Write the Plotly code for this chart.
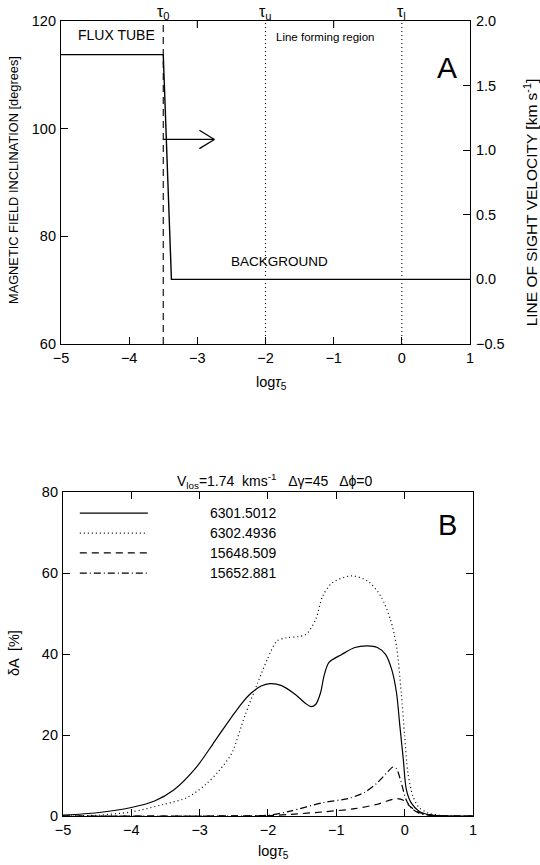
import plotly.graph_objects as go

# ---------------- Panel A data ----------------
logtau_model = [-5.0, -3.5, -3.38, 1.0]
vlos_model = [1.74, 1.74, 0.0, 0.0]          # km/s (right axis)
tau_marks = [-3.5, -2.0, 0.0]                # tau0, tau_u, tau_l
tau_names = ["τ<sub>0</sub>", "τ<sub>u</sub>", "τ<sub>l</sub>"]
top_ticks = [-3, -1]
incl_ticks = [60, 80, 100, 120]
vel_ticks = [-0.5, 0.0, 0.5, 1.0, 1.5, 2.0]
x_ticks = [-5, -4, -3, -2, -1, 0, 1]

# ---------------- Panel B data ----------------
line_names = ["6301.5012", "6302.4936", "15648.509", "15652.881"]

x_6301 = [-5.0, -4.5, -4.0, -3.66, -3.38, -3.05, -2.81, -2.68, -2.53, -2.38, -2.25, -2.1,
          -1.97, -1.8, -1.6, -1.45, -1.37, -1.30, -1.23, -1.18, -1.11, -0.92, -0.73,
          -0.54, -0.40, -0.28, -0.19, -0.12, -0.07, -0.02, 0.024, 0.094, 0.21, 0.4,
          0.7, 1.0]
y_6301 = [0.2, 0.8, 2.1, 3.7, 6.4, 12.0, 17.7, 20.9, 24.5, 27.9, 30.3, 32.1,
          32.7, 32.2, 30.0, 27.8, 27.0, 27.6, 30.5, 34.6, 37.9, 39.9, 41.6,
          42.0, 41.6, 39.9, 36.2, 30.5, 22.2, 14.0, 6.6, 3.3, 1.2, 0.2,
          0.0, 0.0]

x_6302 = [-5.0, -4.5, -4.0, -3.52, -3.19, -2.91, -2.72, -2.53, -2.34, -2.15, -2.01, -1.87,
          -1.73, -1.56, -1.44, -1.30, -1.20, -1.06, -0.78, -0.54, -0.35, -0.21, -0.12,
          -0.05, 0.0, 0.047, 0.12, 0.21, 0.35, 0.5, 0.7, 1.0]
y_6302 = [0.0, 0.2, 1.0, 2.9, 4.5, 7.8, 11.1, 15.5, 24.7, 32.9, 38.7, 43.2,
          44.0, 44.3, 44.9, 48.6, 54.3, 57.6, 59.3, 58.0, 54.3, 48.6, 42.0,
          30.5, 19.8, 10.7, 4.9, 2.1, 0.7, 0.2, 0.0, 0.0]

x_15648 = [-5.0, -3.0, -2.0, -1.675, -1.2, -0.73, -0.40, -0.12, -0.02, 0.07, 0.17, 0.31, 0.5, 1.0]
y_15648 = [0.0, 0.0, 0.1, 0.4, 1.0, 1.8, 2.9, 4.3, 3.9, 2.5, 1.2, 0.4, 0.0, 0.0]

x_15652 = [-5.0, -3.0, -2.0, -1.675, -1.2, -0.83, -0.59, -0.40, -0.26, -0.17, -0.12, -0.05,
           0.02, 0.09, 0.21, 0.35, 0.5, 1.0]
y_15652 = [0.0, 0.0, 0.2, 1.2, 3.3, 4.3, 5.8, 8.2, 10.7, 12.1, 11.7, 8.2,
           4.1, 2.1, 0.7, 0.2, 0.0, 0.0]
dA_ticks = [0, 20, 40, 60, 80]

FONT = "Liberation Sans"
dashes = ["solid", "1px,3px", "7px,5px", "7px,3px,1px,3px"]
series_x = [x_6301, x_6302, x_15648, x_15652]
series_y = [y_6301, y_6302, y_15648, y_15652]

fig = go.Figure()

# Panel A: velocity step (right axis)
fig.add_trace(go.Scatter(x=logtau_model, y=vlos_model, mode="lines",
                         line=dict(color="black", width=1.4),
                         xaxis="x", yaxis="y2", showlegend=False, hoverinfo="skip"))

# Panel B curves
for xs, ys, d, nm in zip(series_x, series_y, dashes, line_names):
    fig.add_trace(go.Scatter(x=xs, y=ys, mode="lines", name=nm,
                             line=dict(color="black", width=1.2, dash=d,
                                       shape="spline", smoothing=0.8),
                             xaxis="x2", yaxis="y3", showlegend=False))

shapes = []
annotations = []
# vertical marks in panel A + tau labels on top
for t, d, nm in zip(tau_marks, ["7px,5px", "1px,3px", "1px,3px"], tau_names):
    shapes.append(dict(type="line", xref="x", yref="y domain", x0=t, x1=t, y0=0, y1=1,
                       line=dict(color="black", width=1.1, dash=d)))
    annotations.append(dict(xref="x", yref="y domain", x=t, y=1, text=nm,
                            showarrow=False, xanchor="center", yanchor="middle",
                            yshift=9, font=dict(size=16)))
# top-edge ticks in panel A
for t in top_ticks:
    shapes.append(dict(type="line", xref="x", yref="y domain", x0=t, x1=t, y0=1, y1=0.978,
                       line=dict(color="black", width=1.1)))
# arrow in panel A
shapes.append(dict(type="line", xref="x", yref="y", x0=-3.5, x1=-2.75, y0=98, y1=98,
                   line=dict(color="black", width=1.3)))
shapes.append(dict(type="line", xref="x", yref="y", x0=-2.97, x1=-2.75, y0=99.7, y1=98,
                   line=dict(color="black", width=1.3)))
shapes.append(dict(type="line", xref="x", yref="y", x0=-2.97, x1=-2.75, y0=96.3, y1=98,
                   line=dict(color="black", width=1.3)))

# legend in panel B (drawn)
leg_y = [0.935, 0.873, 0.812, 0.750]
for ly, d, nm in zip(leg_y, dashes, line_names):
    shapes.append(dict(type="line", xref="x2 domain", yref="y3 domain",
                       x0=0.041, x1=0.207, y0=ly, y1=ly,
                       line=dict(color="black", width=1.2, dash=d)))
    annotations.append(dict(xref="x2 domain", yref="y3 domain", x=0.354, y=ly,
                            text=nm, showarrow=False, xanchor="left", yanchor="middle",
                            font=dict(size=14)))

def ann(xref, yref, x, y, text, size, angle=0):
    return dict(xref=xref, yref=yref, x=x, y=y, text=text, showarrow=False,
                xanchor="center", yanchor="middle", textangle=angle,
                font=dict(size=size))

annotations += [
    ann("x", "y", -4.18, 117.4, "FLUX TUBE", 14),
    ann("x", "y", -1.13, 117.0, "Line forming region", 11.5),
    ann("x", "y", 0.66, 111.3, "A", 30),
    ann("x", "y", -1.8, 75.3, "BACKGROUND", 13.5),
    ann("x2 domain", "y3 domain", 0.937, 0.898, "B", 29),
    ann("paper", "paper", -0.114, 0.80, "MAGNETIC FIELD INCLINATION [degrees]", 12.8, -90),
    ann("paper", "paper", 1.141, 0.772, "LINE OF SIGHT VELOCITY [km s<sup>-1</sup>]", 15.5, -90),
    ann("paper", "paper", 0.51, 0.5447, "log<i>τ</i><sub>5</sub>", 14.5),
    ann("paper", "paper", -0.114, 0.205, "δA  [%]", 14.5, -90),
    ann("paper", "paper", 0.515, -0.045, "log<i>τ</i><sub>5</sub>", 14.5),
    ann("paper", "paper", 0.519, 0.421,
        "V<sub>los</sub>=1.74  kms<sup>-1</sup>   Δγ=45   Δϕ=0", 14),
]

ax_common = dict(showline=True, linecolor="black", linewidth=1.2, ticks="inside",
                 ticklen=7, tickwidth=1.1, tickcolor="black", showgrid=False,
                 zeroline=False, tickfont=dict(size=14.5), automargin=False)

fig.update_layout(
    width=540, height=865,
    margin=dict(l=61, r=67, t=21, b=49, autoexpand=False),
    paper_bgcolor="white", plot_bgcolor="white",
    font=dict(family=FONT, color="black"),
    showlegend=False,
    xaxis=dict(domain=[0, 0.9927], anchor="y", range=[-5, 1], tickvals=x_ticks,
               mirror=True, ticklabelstandoff=0, **ax_common),
    yaxis=dict(domain=[0.5937, 1], anchor="x", range=[60, 120], tickvals=incl_ticks,
               ticklabelstandoff=1, **ax_common),
    yaxis2=dict(overlaying="y", side="right", anchor="x", range=[-0.5, 2.0],
                tickvals=vel_ticks, tickformat=".1f", ticklabelstandoff=2, **ax_common),
    xaxis2=dict(domain=[0.00485, 1], anchor="y3", range=[-5, 1], tickvals=x_ticks,
                mirror="ticks", ticklabelstandoff=0, **ax_common),
    yaxis3=dict(domain=[0, 0.4075], anchor="x2", range=[0, 80], tickvals=dA_ticks,
                mirror="ticks", ticklabelstandoff=1, **ax_common),
    shapes=shapes,
    annotations=annotations,
)

# remove the page's default body margin so the 540x865 figure fills the window
fig.write_html("out.html", config={"displayModeBar": False},
               post_script="document.body.style.margin='0px';")
